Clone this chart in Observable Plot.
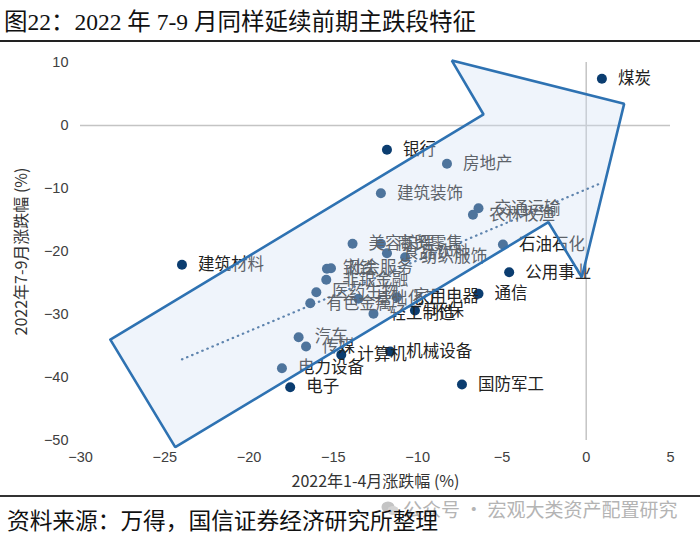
<!DOCTYPE html>
<html>
<head>
<meta charset="utf-8">
<script src="https://cdn.jsdelivr.net/npm/d3@7"></script>
<script src="https://cdn.jsdelivr.net/npm/@observablehq/plot@0.6"></script>
<style>
  html, body { margin: 0; padding: 0; background: #fff; }
  #wrap { position: relative; width: 700px; height: 536px; overflow: hidden; font-family: "Noto Sans CJK SC", "Noto Sans", sans-serif; }
  #title { position: absolute; left: 4px; top: 3px; font-size: 23.5px; color: #111; font-family: "Liberation Serif", "Noto Sans CJK SC", serif; white-space: nowrap; }
  #rule1 { position: absolute; left: 0; top: 40px; width: 700px; height: 2px; background: #222; }
  #chart { position: absolute; left: 0; top: 42px; }
  #rule2 { position: absolute; left: 0; top: 495px; width: 700px; height: 2px; background: #333; }
  #source { position: absolute; left: 7px; top: 503px; font-size: 22.7px; color: #111; white-space: nowrap; }
  #wm { position: absolute; left: 381px; top: 495px; font-size: 19px; color: #b4b4b4; white-space: nowrap; display: flex; align-items: center; gap: 4px; }
</style>
</head>
<body>
<div id="wrap">
  <div id="title">图22：2022 年 7-9 月同样延续前期主跌段特征</div>
  <div id="rule1"></div>
  <div id="chart"></div>
  <div id="rule2"></div>
  <div id="wm"><svg width="18" height="15" viewBox="0 0 18 15"><ellipse cx="7" cy="6" rx="6.5" ry="5.5" fill="#c4c4c4"/><ellipse cx="12" cy="9.5" rx="5.5" ry="4.5" fill="#d4d4d4"/></svg><span>公众号 · 宏观大类资产配置研究</span></div>
  <div id="source">资料来源：万得，国信证券经济研究所整理</div>
</div>
<script>
// Sector names
const sectors = ["煤炭","银行","房地产","建筑装饰","交通运输","农林牧渔","石油石化","公用事业","通信","国防军工","建筑材料",
  "美容护理","商贸零售","食品饮料","纺织服饰","钢铁","社会服务","非银金融","医药生物","有色金属","基础化工","家用电器",
  "轻工制造","环保","汽车","传媒","计算机","机械设备","电力设备","电子"];
// 2022 Jan-Apr return (%)
const ret14 = [0.93,-11.82,-8.26,-12.18,-6.39,-6.72,-4.94,-4.57,-6.39,-7.37,-23.98,
  -13.86,-12.18,-11.82,-10.74,-15.38,-15.14,-15.42,-16.01,-16.37,-13.51,-11.23,
  -12.62,-10.16,-17.06,-16.62,-14.53,-11.63,-18.05,-17.56];
// 2022 Jul-Sep return (%)
const ret79 = [7.41,-3.86,-6.08,-10.75,-13.13,-14.17,-18.89,-23.29,-26.71,-41.11,-22.11,
  -18.78,-18.78,-20.27,-20.90,-22.75,-22.65,-24.49,-26.46,-28.21,-27.51,-27.25,
  -29.89,-29.37,-33.60,-35.08,-36.40,-35.87,-38.52,-41.54];
// Big annotation arrow outline (data units)
const arrowX = [-28.23,-6.09,-7.97,2.25,-0.26,-2.24,-24.38,-28.23];
const arrowY = [-34.0,1.75,10.3,3.44,-24.08,-15.35,-51.06,-34.0];
// Axis ticks
const xTicks = [-30,-25,-20,-15,-10,-5,0,5];
const yTicks = [10,0,-10,-20,-30,-40,-50];
const xTitle = "2022年1-4月涨跌幅 (%)";
const yTitle = "2022年7-9月涨跌幅 (%)";

const data = sectors.map((s, i) => ({name: s, x: ret14[i], y: ret79[i]}));
const arrow = arrowX.map((x, i) => ({x, y: arrowY[i]}));

const chart = Plot.plot({
  width: 700,
  height: 453,
  marginLeft: 80,
  marginRight: 30,
  marginTop: 20,
  marginBottom: 55,
  style: {fontFamily: "'Liberation Sans', 'Noto Sans CJK SC', sans-serif", background: "transparent", overflow: "visible"},
  x: {domain: [-30, 5]},
  y: {domain: [-50, 10]},
  marks: [
    Plot.ruleY([0], {stroke: "#c4c4c4", strokeWidth: 1.5}),
    Plot.ruleX([0], {stroke: "#c4c4c4", strokeWidth: 1.5}),
    Plot.axisX({ticks: xTicks, tickSize: 0, tickPadding: 11, fontSize: 14.5, fill: "#404040", label: null}),
    Plot.axisY({ticks: yTicks, tickSize: 0, tickPadding: 12, fontSize: 14.5, fill: "#404040", label: null}),
    Plot.text([xTitle], {text: d => d, frameAnchor: "bottom", dy: 41, lineAnchor: "middle", textAnchor: "middle", fontSize: 16, fill: "#333", fontFamily: "'Noto Sans CJK SC', sans-serif"}),
    Plot.text([yTitle], {text: d => d, frameAnchor: "left", dx: -59, rotate: -90, lineAnchor: "middle", textAnchor: "middle", fontSize: 16, fill: "#333", fontFamily: "'Noto Sans CJK SC', sans-serif"}),
    Plot.linearRegressionY(data, {x: "x", y: "y", ci: 0, stroke: "#24558a", strokeWidth: 2.2, strokeDasharray: "0.5 5", strokeLinecap: "round"}),
    Plot.dot(data, {x: "x", y: "y", r: 5, fill: "#0b3d70", stroke: "none"}),
    Plot.text(data, {x: "x", y: "y", text: "name", dx: 16, textAnchor: "start", fontSize: 16.5, fill: "#222", fontFamily: "'Noto Sans CJK SC', sans-serif"}),
    Plot.line(arrow, {x: "x", y: "y", fill: "#cfe0f2", fillOpacity: 0.34, stroke: "#2e72b2", strokeWidth: 2.6, strokeLinejoin: "miter", curve: "linear"})
  ]
});
document.getElementById("chart").appendChild(chart);
</script>
</body>
</html>
